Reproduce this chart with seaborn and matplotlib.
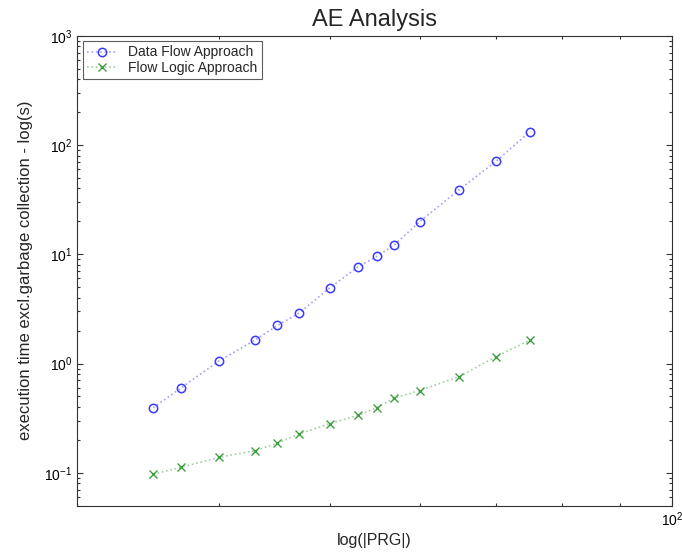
import numpy as np
import pandas as pd
import matplotlib
matplotlib.use('Agg')
import matplotlib.pyplot as plt
import seaborn as sns
from matplotlib.ticker import LogLocator, NullFormatter

# values
prg_size = [35, 37, 40, 43, 45, 47, 50, 53, 55, 57, 60, 65, 70, 75]
data_flow = [0.394, 0.595, 1.06, 1.64, 2.23, 2.89, 4.91, 7.72, 9.55, 12.2, 19.9, 39.1, 70.8, 132.8]
flow_logic = [0.097, 0.112, 0.139, 0.159, 0.187, 0.226, 0.282, 0.336, 0.394, 0.482, 0.566, 0.760, 1.156, 1.64]
series_names = ['Data Flow Approach', 'Flow Logic Approach']

df = pd.DataFrame({'prg': prg_size, 'flow': data_flow, 'logic': flow_logic})

sns.set_style('white')
plt.rcParams['font.family'] = ['Liberation Sans', 'DejaVu Sans']
plt.rcParams['axes.unicode_minus'] = False

fig = plt.figure(figsize=(6.82, 5.52), dpi=100)
ax = fig.add_axes([0.1129, 0.0839, 0.8729, 0.8514])

sns.lineplot(data=df, x='prg', y='flow', ax=ax, color='#a0a0ff', linestyle=':', linewidth=1.2,
             marker='o', markersize=6, markerfacecolor='none', markeredgecolor='#3a3aff',
             markeredgewidth=1.1, label=series_names[0])
sns.lineplot(data=df, x='prg', y='logic', ax=ax, color='#9fd09f', linestyle=':', linewidth=1.2,
             marker='x', markersize=5.5, markeredgecolor='#3f9f3f', markeredgewidth=1.0,
             label=series_names[1])

ax.set_xscale('log')
ax.set_yscale('log')
ax.set_xlim(30, 100)
ax.set_ylim(0.05, 1000)

ax.xaxis.set_major_locator(LogLocator(base=10))
ax.xaxis.set_minor_locator(LogLocator(base=10, subs=np.arange(2, 10)))
ax.xaxis.set_minor_formatter(NullFormatter())
ax.yaxis.set_major_locator(LogLocator(base=10))
ax.yaxis.set_minor_locator(LogLocator(base=10, subs=np.arange(2, 10)))
ax.yaxis.set_minor_formatter(NullFormatter())

ax.tick_params(which='both', direction='in', top=True, right=True, bottom=True, left=True,
               colors='#333333', labelcolor='black', labelsize=10, width=0.8)
ax.tick_params(which='major', length=4)
ax.tick_params(which='minor', length=2.5)
for s in ax.spines.values():
    s.set_color('#333333')
    s.set_linewidth(0.8)

ax.set_title('AE Analysis', fontsize=17, pad=7)
ax.set_xlabel('log(|PRG|)', fontsize=11.5, labelpad=3)
ax.set_ylabel('execution time excl.garbage collection - log(s)', fontsize=12, labelpad=8)

leg = ax.legend(loc='upper left', fontsize=10, frameon=True, fancybox=False, edgecolor='#333333',
                borderpad=0.3, labelspacing=0.1, handlelength=2.2, borderaxespad=0.4)
leg.get_frame().set_linewidth(0.8)

fig.savefig('out.png', dpi=100)
